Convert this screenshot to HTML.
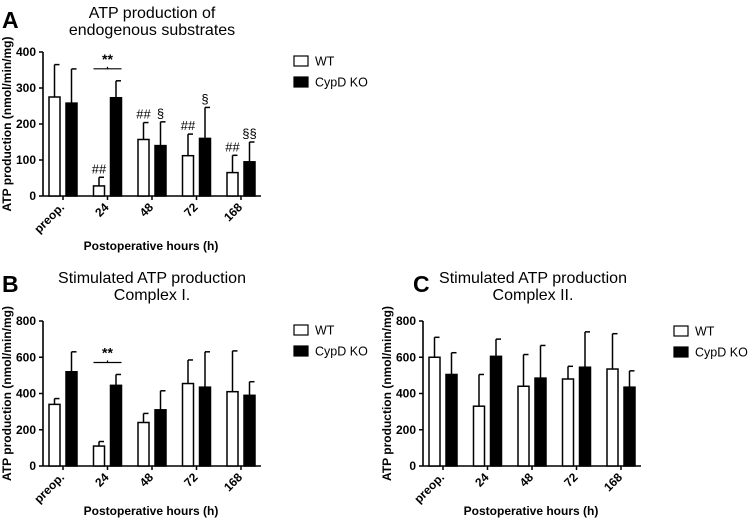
<!DOCTYPE html>
<html><head><meta charset="utf-8">
<style>
html,body{margin:0;padding:0;background:#fff;}
svg{display:block;font-family:"Liberation Sans",Arial,sans-serif;}
</style></head>
<body>
<svg id="fig" width="750" height="524" viewBox="0 0 750 524"></svg>
<script>
const categories = ["preop.", "24", "48", "72", "168"];
const seriesNames = ["WT", "CypD KO"];
const aWT = [275, 28, 157, 112, 65];
const aWTerr = [90, 24, 47, 60, 48];
const aKO = [258, 273, 140, 160, 95];
const aKOerr = [95, 47, 66, 86, 55];
const bWT = [340, 110, 240, 455, 410];
const bWTerr = [32, 25, 50, 130, 225];
const bKO = [520, 445, 310, 435, 390];
const bKOerr = [110, 60, 105, 195, 75];
const cWT = [600, 330, 440, 480, 535];
const cWTerr = [110, 175, 175, 70, 195];
const cKO = [505, 605, 485, 545, 435];
const cKOerr = [120, 95, 180, 195, 90];
const aTicks = [0, 100, 200, 300, 400];
const bcTicks = [0, 200, 400, 600, 800];
const aWTmarks = ["", "##", "##", "##", "##"];
const aKOmarks = ["", "", "§", "§", "§§"];

const NS = "http://www.w3.org/2000/svg";
const svg = document.getElementById("fig");
function mk(tag, attrs, parent, text) {
  const e = document.createElementNS(NS, tag);
  for (const k in attrs) e.setAttribute(k, attrs[k]);
  if (text !== undefined) e.textContent = text;
  (parent || svg).appendChild(e);
  return e;
}

function panel(p) {
  const g = mk("g", {});
  
  
  const y = v => p.y0 - (v / p.max) * (p.y0 - p.yTop);
  const xWT = i => p.x0 + 6 + 44.5 * i;
  const bw = 11;
  const L = mk("text", {x: p.lx, y: p.ly, "font-size": 23, "font-weight": "bold"}, g, p.id);
  
  
  p.title.forEach((t, k) => {
    const T = mk("text", {x: p.tx, y: p.ty + k * 17, "font-size": 16, "text-anchor": "middle"}, g, t);
    
    
  });
  const ya = mk("line", {x1: p.x0, y1: p.yTop, x2: p.x0, y2: p.y0, stroke: "#000", "stroke-width": 1.6}, g);
  
  
  const xa = mk("line", {x1: p.x0, y1: p.y0, x2: p.x0 + 218, y2: p.y0, stroke: "#000", "stroke-width": 1.6}, g);
  
  
  p.ticks.forEach(t => {
    mk("line", {x1: p.x0 - 4, y1: y(t), x2: p.x0, y2: y(t), stroke: "#000", "stroke-width": 1.5}, g);
    const tl = mk("text", {x: p.x0 - 7, y: y(t) + 4, "font-size": 12, "font-weight": "bold", "text-anchor": "end"}, g, t);
    
    
  });
  const yl = mk("text", {x: 0, y: 0, "font-size": 12, "font-weight": "bold", "text-anchor": "middle",
    transform: `translate(${p.x0 - 32},${(p.y0 + p.yTop) / 2}) rotate(-90)`}, g, "ATP production (nmol/min/mg)");
  
  
  categories.forEach((c, i) => {
    const cx = xWT(i) + 14;
    mk("line", {x1: cx, y1: p.y0, x2: cx, y2: p.y0 + 4, stroke: "#000", "stroke-width": 1.5}, g);
    const cl = mk("text", {x: 0, y: 0, "font-size": 12, "font-weight": "bold", "text-anchor": "end",
      transform: `translate(${cx + 2},${p.y0 + 12}) rotate(-45)`}, g, c);
    
    
    [[p.wt, p.wtE, "#fff", 0], [p.ko, p.koE, "#000", 17]].forEach(([vals, errs, fill, off], s) => {
      const bx = xWT(i) + off, top = y(vals[i]), et = y(vals[i] + errs[i]);
      const cxm = bx + bw / 2;
      mk("line", {x1: cxm, y1: top, x2: cxm, y2: et, stroke: "#000", "stroke-width": 1.5}, g);
      mk("line", {x1: cxm, y1: et, x2: cxm + 5, y2: et, stroke: "#000", "stroke-width": 1.5}, g);
      const r = mk("rect", {x: bx, y: top, width: bw, height: p.y0 - top, fill: fill, stroke: "#000", "stroke-width": 1.5}, g);
      
      
      const marks = s ? p.koM : p.wtM;
      if (marks && marks[i]) {
        const m = mk("text", {x: cxm, y: et - 4, "font-size": 13, "text-anchor": "middle"}, g, marks[i]);
        
        
      }
    });
  });
  if (p.bracket) {
    const i = 1, x1 = xWT(i), x2 = xWT(i) + 28;
    const by = y(Math.max(p.wt[i] + p.wtE[i], p.ko[i] + p.koE[i])) - 12;
    mk("line", {x1: x1, y1: by, x2: x2, y2: by, stroke: "#000", "stroke-width": 1.2}, g);
    mk("line", {x1: (x1 + x2) / 2, y1: by, x2: (x1 + x2) / 2, y2: by - 2, stroke: "#000", "stroke-width": 1.2}, g);
    const st = mk("text", {x: (x1 + x2) / 2, y: by - 5, "font-size": 14, "font-weight": "bold", "text-anchor": "middle"}, g, "**");
    
    
  }
  const xt = mk("text", {x: p.x0 + 108, y: p.xty, "font-size": 12, "font-weight": "bold", "text-anchor": "middle"}, g, "Postoperative hours (h)");
  
  
  seriesNames.forEach((n, k) => {
    const ly = p.legY + k * 21;
    const b = mk("rect", {x: p.legX, y: ly - 5, width: 14, height: 10, fill: k ? "#000" : "#fff", stroke: "#000", "stroke-width": 1.2}, g);
    
    
    const lt = mk("text", {x: p.legX + 21, y: ly + 4.5, "font-size": 12.5}, g, n);
    
    
  });
}

panel({id: "A", x0: 43, y0: 196, yTop: 52, max: 400, ticks: aTicks, wt: aWT, wtE: aWTerr, ko: aKO, koE: aKOerr,
  wtM: aWTmarks, koM: aKOmarks, bracket: true, lx: 2, ly: 28, tx: 152, ty: 18, title: ["ATP production of", "endogenous substrates"],
  xty: 250, legX: 294, legY: 61});
panel({id: "B", x0: 43, y0: 466, yTop: 321, max: 800, ticks: bcTicks, wt: bWT, wtE: bWTerr, ko: bKO, koE: bKOerr,
  bracket: true, lx: 2, ly: 292, tx: 152, ty: 283, title: ["Stimulated ATP production", "Complex I."],
  xty: 515, legX: 294, legY: 330});
panel({id: "C", x0: 423, y0: 466, yTop: 321, max: 800, ticks: bcTicks, wt: cWT, wtE: cWTerr, ko: cKO, koE: cKOerr,
  bracket: false, lx: 413, ly: 292, tx: 533, ty: 283, title: ["Stimulated ATP production", "Complex II."],
  xty: 515, legX: 674, legY: 331});
</script>
</body></html>
